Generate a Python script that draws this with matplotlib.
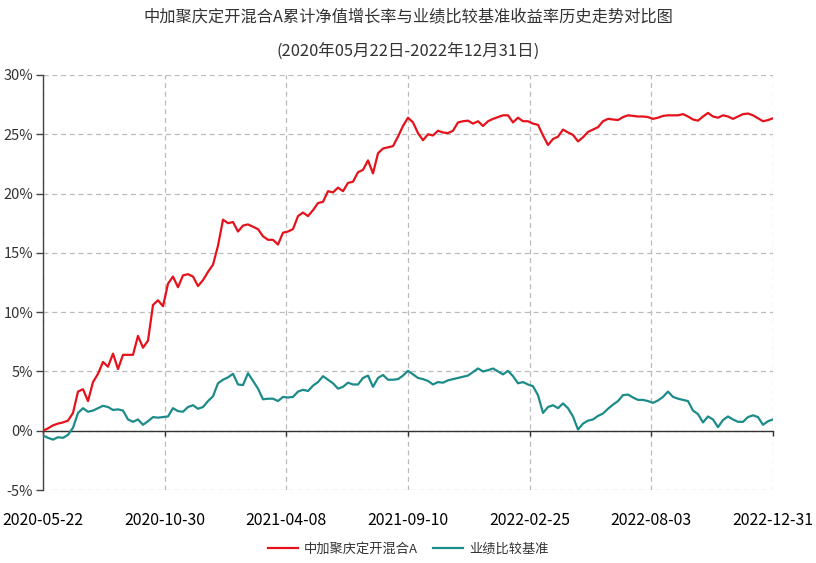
import matplotlib
matplotlib.use("Agg")
import matplotlib.pyplot as plt
import numpy as np

plt.rcParams['font.family'] = ['Noto Sans CJK SC', 'DejaVu Sans']

title_1 = "中加聚庆定开混合A累计净值增长率与业绩比较基准收益率历史走势对比图"
title_2 = "(2020年05月22日-2022年12月31日)"
series_names = ["中加聚庆定开混合A", "业绩比较基准"]
x_tick_labels = ["2020-05-22", "2020-10-30", "2021-04-08", "2021-09-10",
                 "2022-02-25", "2022-08-03", "2022-12-31"]
y_ticks = [-5, 0, 5, 10, 15, 20, 25, 30]

# 累计净值增长率 (%), evenly sampled over the period
fund = [0.0, 0.2, 0.45, 0.6, 0.7, 0.85, 1.5, 3.3, 3.5, 2.5,
        4.1, 4.8, 5.8, 5.4, 6.5, 5.2, 6.4, 6.4, 6.4, 8.0,
        7.0, 7.6, 10.6, 11.0, 10.5, 12.4, 13.0, 12.1, 13.1, 13.2,
        13.0, 12.2, 12.7, 13.4, 14.0, 15.6, 17.8, 17.5, 17.6, 16.8,
        17.3, 17.4, 17.2, 17.0, 16.4, 16.1, 16.1, 15.7, 16.7, 16.8,
        17.0, 18.1, 18.4, 18.1, 18.6, 19.2, 19.3, 20.2, 20.1, 20.5,
        20.2, 20.9, 21.0, 21.8, 22.0, 22.8, 21.7, 23.4, 23.8, 23.9,
        24.0, 24.8, 25.7, 26.4, 26.0, 25.1, 24.5, 25.0, 24.9, 25.3,
        25.15, 25.1, 25.3, 26.0, 26.1, 26.15, 25.9, 26.1, 25.7, 26.1,
        26.3, 26.45, 26.6, 26.6, 26.0, 26.4, 26.1, 26.1, 25.9, 25.8,
        24.9, 24.1, 24.6, 24.8, 25.4, 25.15, 24.95, 24.4, 24.75, 25.2,
        25.4, 25.6, 26.1, 26.3, 26.25, 26.2, 26.45, 26.6, 26.55, 26.5,
        26.5, 26.45, 26.3, 26.4, 26.55, 26.6, 26.6, 26.6, 26.7, 26.5,
        26.25, 26.15, 26.5, 26.8, 26.5, 26.4, 26.6, 26.5, 26.3, 26.5,
        26.7, 26.75, 26.6, 26.35, 26.1, 26.2, 26.35]

# 业绩比较基准收益率 (%)
bench = [-0.4, -0.6, -0.75, -0.55, -0.6, -0.35, 0.25, 1.5, 1.9, 1.6,
         1.7, 1.9, 2.1, 2.0, 1.75, 1.8, 1.7, 0.95, 0.75, 0.95,
         0.5, 0.8, 1.15, 1.1, 1.15, 1.2, 1.9, 1.65, 1.6, 2.0,
         2.15, 1.85, 2.0, 2.5, 2.9, 4.0, 4.3, 4.5, 4.8, 3.9,
         3.85, 4.85, 4.2, 3.55, 2.65, 2.7, 2.7, 2.5, 2.85, 2.8,
         2.85, 3.3, 3.45, 3.35, 3.8, 4.1, 4.6, 4.3, 4.0, 3.55,
         3.7, 4.05, 3.9, 3.9, 4.45, 4.65, 3.7, 4.45, 4.7, 4.3,
         4.3, 4.35, 4.65, 5.05, 4.75, 4.45, 4.35, 4.2, 3.9, 4.1,
         4.05, 4.25, 4.35, 4.45, 4.55, 4.65, 4.95, 5.25, 5.0, 5.1,
         5.25, 5.0, 4.75, 5.05, 4.6, 4.0, 4.1, 3.9, 3.75, 3.0,
         1.5, 2.0, 2.15, 1.9, 2.3, 1.9, 1.2, 0.1, 0.6, 0.85,
         0.95, 1.25, 1.45, 1.85, 2.2, 2.5, 3.0, 3.05, 2.8, 2.6,
         2.6, 2.5, 2.35, 2.55, 2.85, 3.3, 2.85, 2.7, 2.6, 2.5,
         1.7, 1.4, 0.7, 1.2, 0.95, 0.3, 0.9, 1.2, 0.95, 0.75,
         0.75, 1.15, 1.3, 1.15, 0.5, 0.8, 0.95]

red = '#e5121c'
teal = '#1c8c8a'
text_c = '#333333'

fig = plt.figure(figsize=(8.16, 5.63), dpi=100)
ax = fig.add_axes([43/816, 1-490/563, 730/816, 415/563])

x = np.arange(len(fund))
n = len(fund) - 1
ax.plot(x, fund, color=red, lw=1.6, label=series_names[0], zorder=3)
ax.plot(x, bench, color=teal, lw=1.6, label=series_names[1], zorder=3)

ax.set_xlim(0, n)
ax.set_ylim(-5, 30)
xt = np.linspace(0, n, len(x_tick_labels))
ax.set_xticks(xt)
ax.set_xticklabels(x_tick_labels, color=text_c)
ax.tick_params(axis='x', length=3.6, width=1, color='#333333', direction='out',
               pad=55, labelsize=11.4)
ax.set_yticks(y_ticks)
ax.set_yticklabels([f"{v}%" for v in y_ticks], color=text_c)
ax.tick_params(axis='y', length=5, width=1, color='#444444', pad=2, labelsize=10.5)

ax.grid(True, color='#bbbbbb', linestyle=(0, (4, 3)), linewidth=0.9)
for s in ['top', 'right']:
    ax.spines[s].set_visible(False)
ax.spines['bottom'].set_position(('data', 0))
ax.spines['bottom'].set_color('#333333')
ax.spines['bottom'].set_linewidth(1.0)
ax.spines['left'].set_color('#444444')
ax.spines['left'].set_linewidth(1.0)

fig.text(0.5, 1-17/563, title_1, ha='center', va='center', fontsize=11.7, color=text_c)
fig.text(0.5, 1-51/563, title_2, ha='center', va='center', fontsize=11.9, color=text_c)

fig.legend(loc='center', bbox_to_anchor=(0.5, 1-549/563), ncol=2, frameon=False,
           fontsize=9.5, handlelength=2.3, columnspacing=1.1, handletextpad=0.45,
           labelcolor=text_c)

fig.savefig('out.png', dpi=100)
